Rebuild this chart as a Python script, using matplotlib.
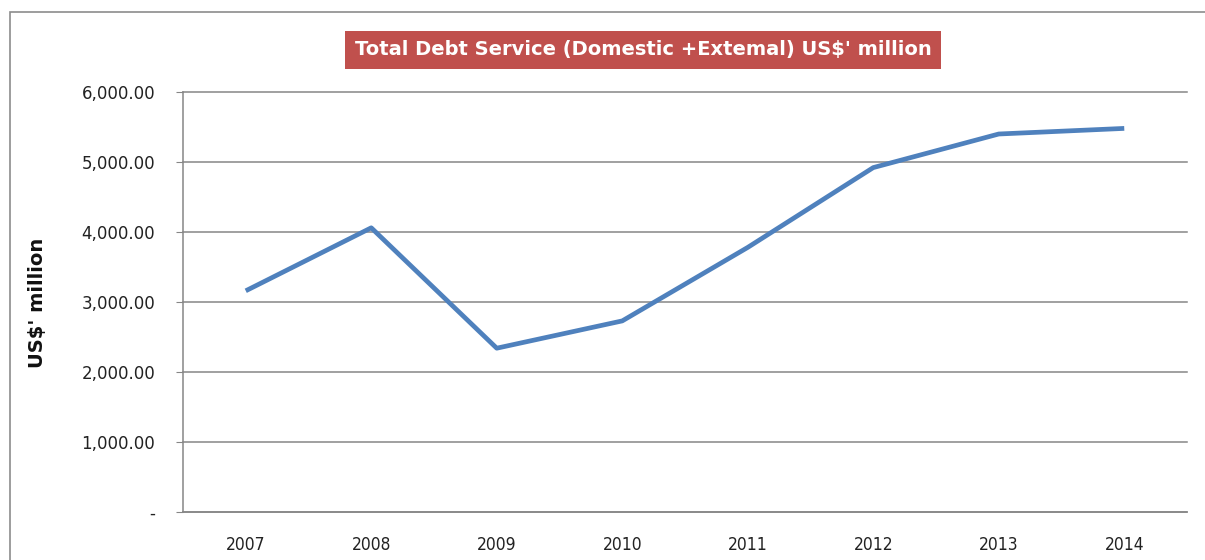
import matplotlib
matplotlib.use("Agg")
import matplotlib.pyplot as plt
from matplotlib.ticker import FuncFormatter
from matplotlib.patches import Rectangle

years = ["2007", "2008", "2009", "2010", "2011", "2012", "2013", "2014"]
debt_service = [3160, 4060, 2340, 2730, 3780, 4920, 5400, 5480]
y_ticks = [0, 1000, 2000, 3000, 4000, 5000, 6000]
title = "Total Debt Service (Domestic +Extemal) US$' million"
y_label = "US$' million"

fig = plt.figure(figsize=(12.05, 5.6), dpi=100)
# outer chart frame
fig.patches.append(Rectangle((10/1205, -0.1), 1.2, (560-12)/560 + 0.1,
                             transform=fig.transFigure, fill=False,
                             edgecolor="#8c8c8c", linewidth=1.2))

ax = fig.add_axes([183/1205, 1 - 512/560, (1187-183)/1205, (512-92)/560])
x = list(range(len(years)))
ax.plot(x, debt_service, color="#4F81BD", linewidth=3.4, solid_capstyle="butt", zorder=3)
ax.set_xlim(-0.5, len(years) - 0.5)
ax.set_ylim(0, 6000)
ax.set_yticks(y_ticks)
ax.set_xticks(x)
ax.set_xticklabels(years)

def fmt(v, pos):
    return "-" if v == 0 else f"{v:,.2f}"
ax.yaxis.set_major_formatter(FuncFormatter(fmt))

ax.grid(axis="y", color="#868686", linewidth=1.1)
for gl in ax.get_ygridlines():
    gl.set_clip_on(False)
ax.set_axisbelow(True)
for s in ["top", "right"]:
    ax.spines[s].set_visible(False)
ax.spines["left"].set_color("#868686")
ax.spines["bottom"].set_color("#868686")
ax.spines["left"].set_linewidth(1.1)
ax.spines["bottom"].set_linewidth(1.1)
ax.tick_params(axis="y", length=5, color="#868686", labelsize=12, pad=15, labelcolor="#222222")
ax.tick_params(axis="x", length=0, labelsize=12.5, pad=17, labelcolor="#222222")
for lab in ax.get_xticklabels():
    lab.set_fontfamily(["DejaVu Sans Condensed", "Liberation Sans Narrow", "DejaVu Sans"])
    lab.set_fontstretch("condensed")

fig.text(38/1205, 1 - 303/560, y_label, rotation=90, ha="center", va="center",
         fontsize=14, fontweight="bold", color="#111111")

fig.text(643/1205, 1 - 50/560, title, ha="center", va="center", fontsize=14,
         color="white", fontweight="bold",
         family=["Liberation Sans Narrow", "DejaVu Sans Condensed", "DejaVu Sans"],
         bbox=dict(boxstyle="square,pad=0.5", facecolor="#C0504D", edgecolor="none"))

fig.savefig("out.png", dpi=100)
